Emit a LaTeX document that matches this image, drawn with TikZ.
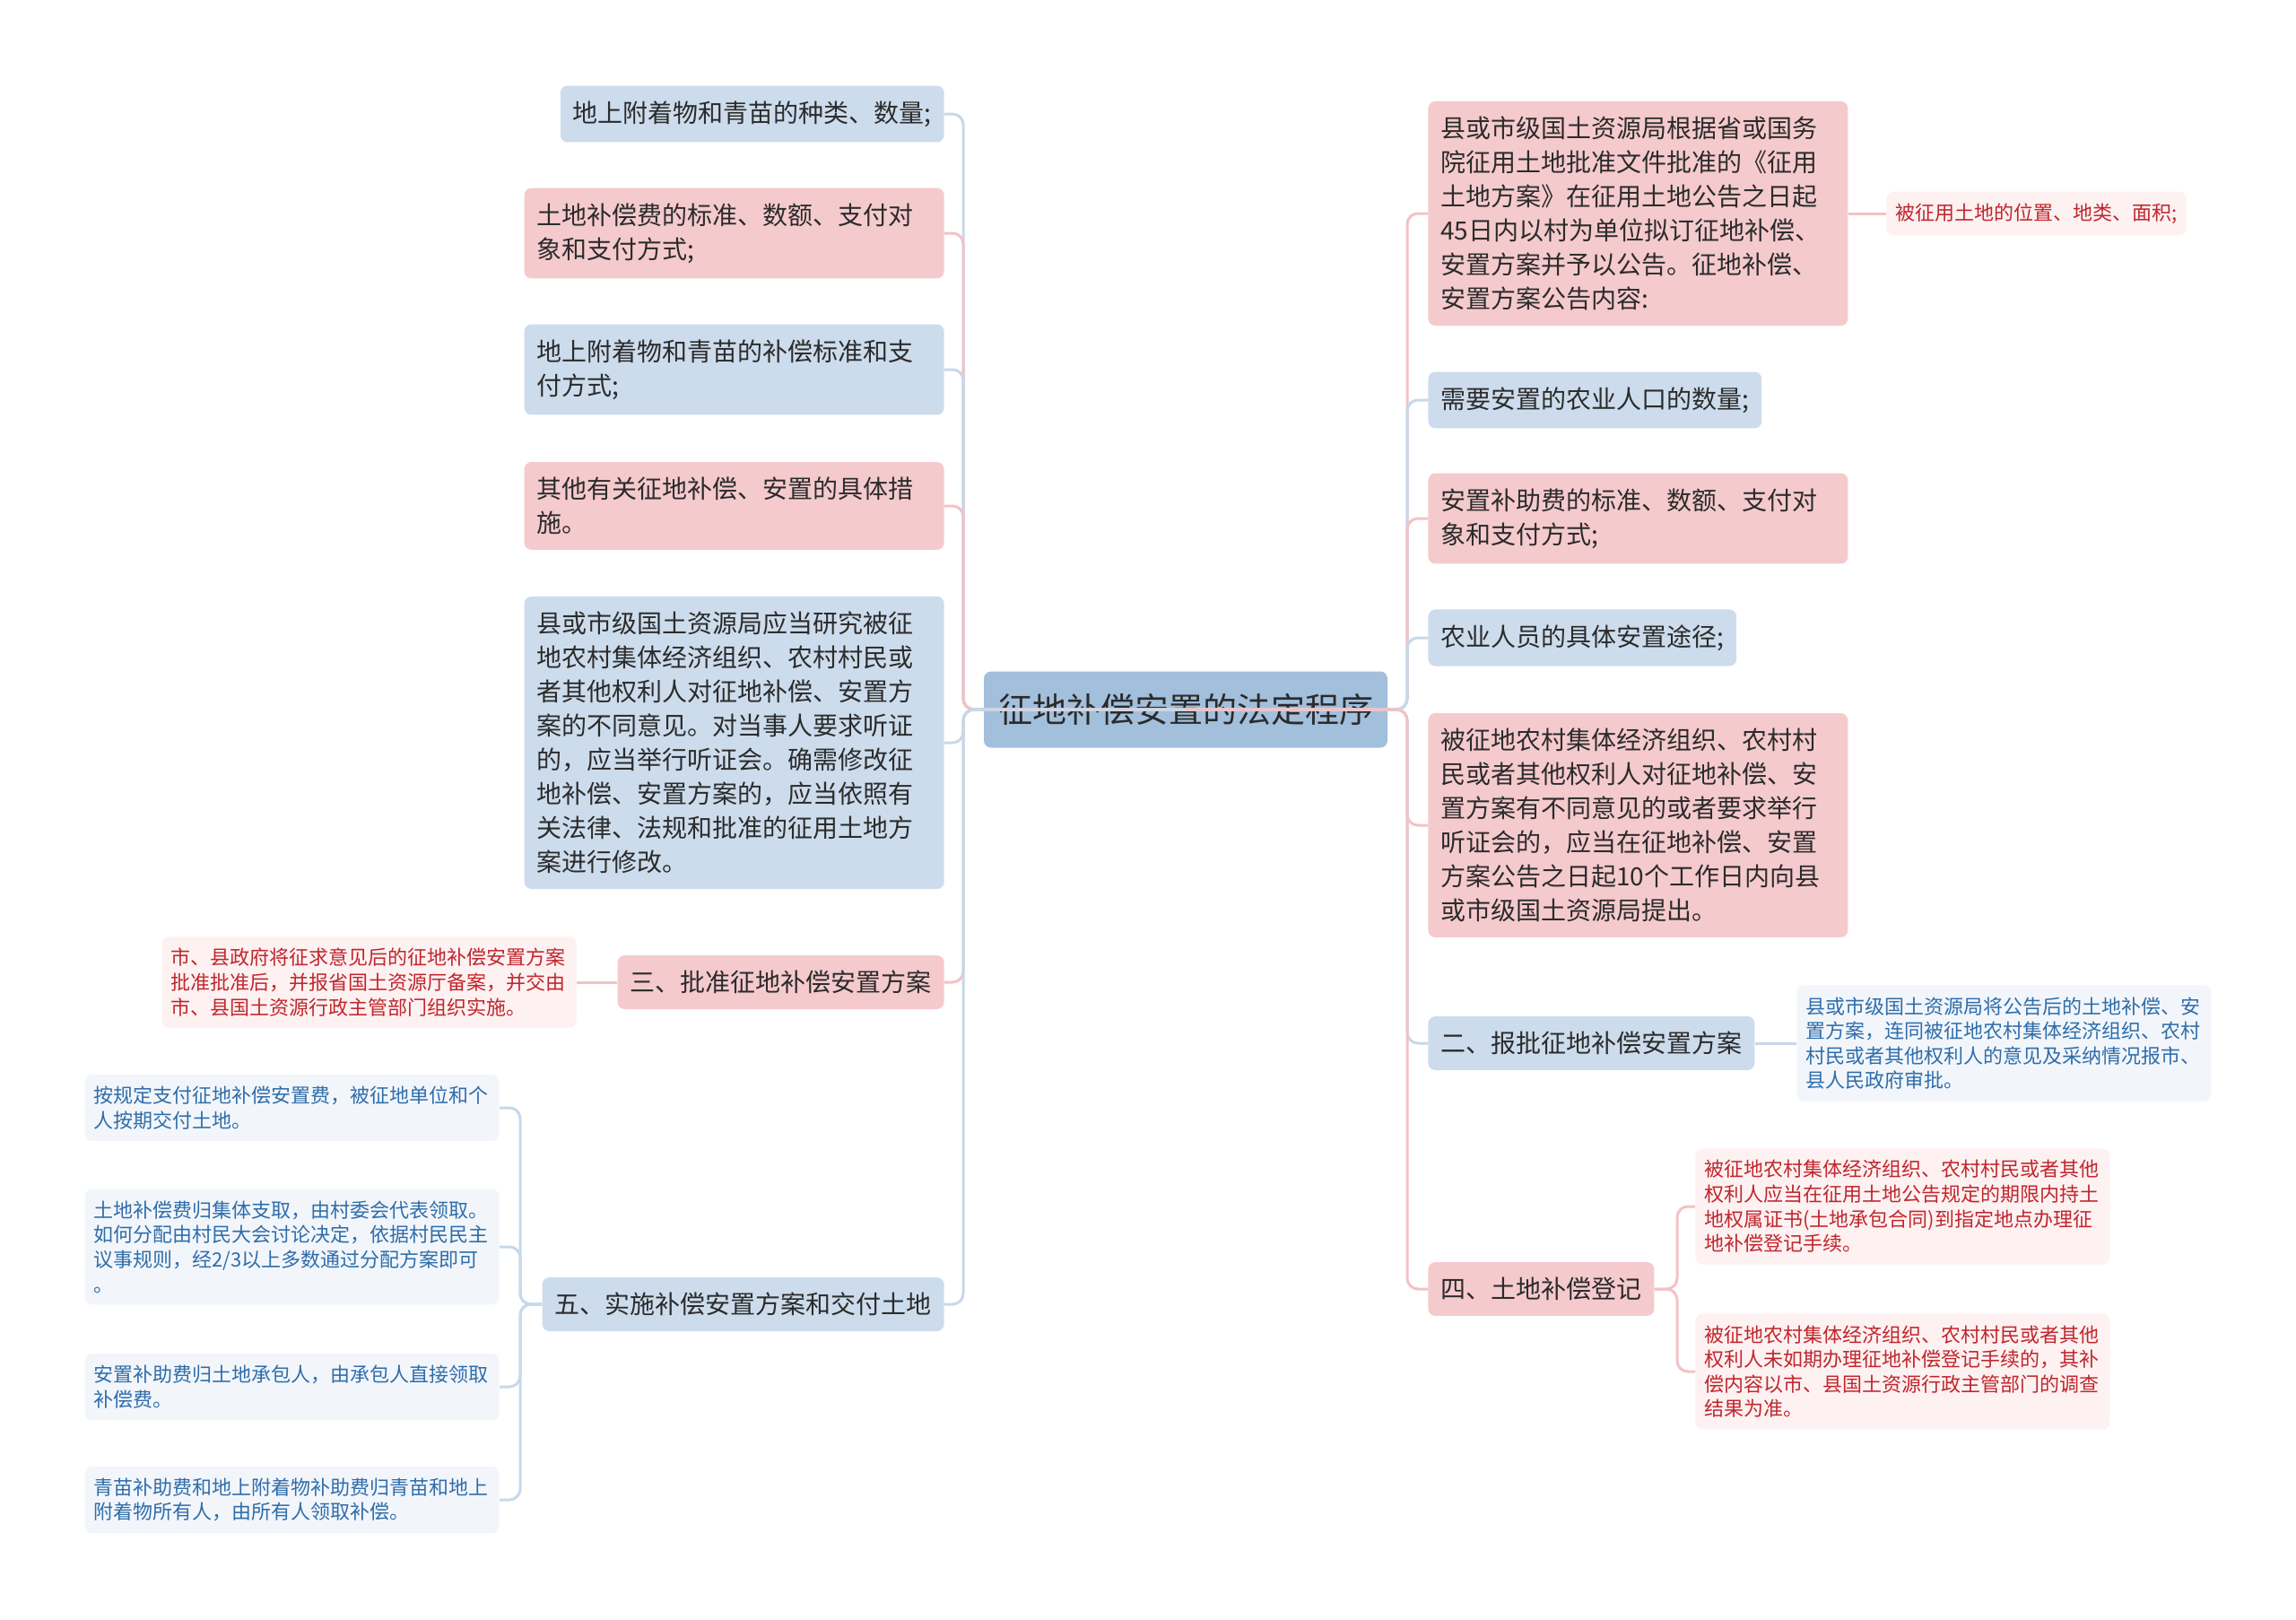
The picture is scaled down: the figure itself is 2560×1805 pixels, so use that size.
\documentclass[tikz,border=0pt]{standalone}
\usepackage{fontspec}
\setmainfont{Noto Sans CJK SC}
\definecolor{rootfill}{HTML}{A2BFDC}
\definecolor{bluefill}{HTML}{CCDCEC}
\definecolor{pinkfill}{HTML}{F5CACD}
\definecolor{bluelite}{HTML}{F2F6FB}
\definecolor{pinklite}{HTML}{FDF1F1}
\definecolor{blueline}{HTML}{C6D8EA}
\definecolor{pinkline}{HTML}{F2C2C5}
\definecolor{bluetext}{HTML}{2F6DAA}
\definecolor{redtext}{HTML}{C0262D}
\definecolor{darktext}{HTML}{2B2B2B}
\tikzset{
  root/.style={rounded corners=4pt, fill=rootfill, text=darktext, inner xsep=8pt, minimum height=42.5pt, font=\fontsize{19pt}{23pt}\selectfont},
  topic/.style={rounded corners=4pt, inner xsep=7pt, inner ysep=8.5pt, align=left, text=darktext, font=\fontsize{14pt}{19pt}\selectfont},
  bluebox/.style={topic, fill=bluefill},
  pinkbox/.style={topic, fill=pinkfill},
  wrap/.style={text width=220pt},
  note/.style={rounded corners=4pt, inner xsep=5pt, inner ysep=6.5pt, align=left, font=\fontsize{11pt}{13.8pt}\selectfont},
  notewrap/.style={text width=221pt},
  bluenote/.style={note, fill=bluelite, text=bluetext},
  rednote/.style={note, fill=pinklite, text=redtext},
  blink/.style={draw=blueline, line width=1.5pt, rounded corners=6pt},
  plink/.style={draw=pinkline, line width=1.5pt, rounded corners=6pt}
}
\begin{document}
\begin{tikzpicture}[x=0.5pt, y=-0.5pt]
  \useasboundingbox (0,0) rectangle (2560,1805);

  \node[root] (root) at (1322,791) {征地补偿安置的法定程序};

  \node[bluebox, anchor=east] (l1) at (1053,127) {地上附着物和青苗的种类、数量;};
  \node[pinkbox, wrap, anchor=east] (l2) at (1053,260) {土地补偿费的标准、数额、支付对\\象和支付方式;};
  \node[bluebox, wrap, anchor=east] (l3) at (1053,412) {地上附着物和青苗的补偿标准和支\\付方式;};
  \node[pinkbox, wrap, anchor=east] (l4) at (1053,564) {其他有关征地补偿、安置的具体措\\施。};
  \node[bluebox, wrap, anchor=east] (l5) at (1053,828) {县或市级国土资源局应当研究被征\\地农村集体经济组织、农村村民或\\者其他权利人对征地补偿、安置方\\案的不同意见。对当事人要求听证\\的，应当举行听证会。确需修改征\\地补偿、安置方案的，应当依照有\\关法律、法规和批准的征用土地方\\案进行修改。};
  \node[pinkbox, anchor=east] (l6) at (1053,1095) {三、批准征地补偿安置方案};
  \node[bluebox, anchor=east] (l7) at (1053,1454) {五、实施补偿安置方案和交付土地};

  \node[rednote, notewrap, anchor=east] (l6n) at (643,1095) {市、县政府将征求意见后的征地补偿安置方案\\批准批准后，并报省国土资源厅备案，并交由\\市、县国土资源行政主管部门组织实施。};

  \node[bluenote, notewrap, anchor=east] (l7a) at (557,1235) {按规定支付征地补偿安置费，被征地单位和个\\人按期交付土地。};
  \node[bluenote, notewrap, anchor=east] (l7b) at (557,1390) {土地补偿费归集体支取，由村委会代表领取。\\如何分配由村民大会讨论决定，依据村民民主\\议事规则，经2/3以上多数通过分配方案即可\\。};
  \node[bluenote, notewrap, anchor=east] (l7c) at (557,1546) {安置补助费归土地承包人，由承包人直接领取\\补偿费。};
  \node[bluenote, notewrap, anchor=east] (l7d) at (557,1672) {青苗补助费和地上附着物补助费归青苗和地上\\附着物所有人，由所有人领取补偿。};

  \node[pinkbox, wrap, anchor=west] (r1) at (1592,238) {县或市级国土资源局根据省或国务\\院征用土地批准文件批准的《征用\\土地方案》在征用土地公告之日起\\45日内以村为单位拟订征地补偿、\\安置方案并予以公告。征地补偿、\\安置方案公告内容:};
  \node[bluebox, anchor=west] (r2) at (1592,446) {需要安置的农业人口的数量;};
  \node[pinkbox, wrap, anchor=west] (r3) at (1592,578) {安置补助费的标准、数额、支付对\\象和支付方式;};
  \node[bluebox, anchor=west] (r4) at (1592,711) {农业人员的具体安置途径;};
  \node[pinkbox, wrap, anchor=west] (r5) at (1592,920) {被征地农村集体经济组织、农村村\\民或者其他权利人对征地补偿、安\\置方案有不同意见的或者要求举行\\听证会的，应当在征地补偿、安置\\方案公告之日起10个工作日内向县\\或市级国土资源局提出。};
  \node[bluebox, anchor=west] (r6) at (1592,1163) {二、报批征地补偿安置方案};
  \node[pinkbox, anchor=west] (r7) at (1592,1437) {四、土地补偿登记};

  \node[rednote, anchor=west] (r1n) at (2103,238) {被征用土地的位置、地类、面积;};
  \node[bluenote, notewrap, anchor=west] (r6n) at (2003,1163) {县或市级国土资源局将公告后的土地补偿、安\\置方案，连同被征地农村集体经济组织、农村\\村民或者其他权利人的意见及采纳情况报市、\\县人民政府审批。};
  \node[rednote, notewrap, anchor=west] (r7a) at (1890,1345) {被征地农村集体经济组织、农村村民或者其他\\权利人应当在征用土地公告规定的期限内持土\\地权属证书(土地承包合同)到指定地点办理征\\地补偿登记手续。};
  \node[rednote, notewrap, anchor=west] (r7b) at (1890,1529) {被征地农村集体经济组织、农村村民或者其他\\权利人未如期办理征地补偿登记手续的，其补\\偿内容以市、县国土资源行政主管部门的调查\\结果为准。};

  \coordinate (ls) at (1074,791);
  \coordinate (rs) at (1569,791);
  \coordinate (l7s) at (580,1454);
  \coordinate (r7s) at (1870,1437);

  \draw[blink] (root.center) -- (ls) |- (l1.east);
  \draw[plink] (root.center) -- (ls) |- (l2.east);
  \draw[blink] (root.center) -- (ls) |- (l3.east);
  \draw[plink] (root.center) -- (ls) |- (l4.east);
  \draw[blink] (root.center) -- (ls) |- (l5.east);
  \draw[plink] (root.center) -- (ls) |- (l6.east);
  \draw[blink] (root.center) -- (ls) |- (l7.east);

  \draw[plink] (root.center) -- (rs) |- (r1.west);
  \draw[blink] (root.center) -- (rs) |- (r2.west);
  \draw[plink] (root.center) -- (rs) |- (r3.west);
  \draw[blink] (root.center) -- (rs) |- (r4.west);
  \draw[plink] (root.center) -- (rs) |- (r5.west);
  \draw[blink] (root.center) -- (rs) |- (r6.west);
  \draw[plink] (root.center) -- (rs) |- (r7.west);

  \draw[plink] (l6.west) -- (l6n.east);
  \draw[blink] (l7.west) -- (l7s) |- (l7a.east);
  \draw[blink] (l7.west) -- (l7s) |- (l7b.east);
  \draw[blink] (l7.west) -- (l7s) |- (l7c.east);
  \draw[blink] (l7.west) -- (l7s) |- (l7d.east);

  \draw[plink] (r1.east) -- (r1n.west);
  \draw[blink] (r6.east) -- (r6n.west);
  \draw[plink] (r7.east) -- (r7s) |- (r7a.west);
  \draw[plink] (r7.east) -- (r7s) |- (r7b.west);
\end{tikzpicture}
\end{document}
